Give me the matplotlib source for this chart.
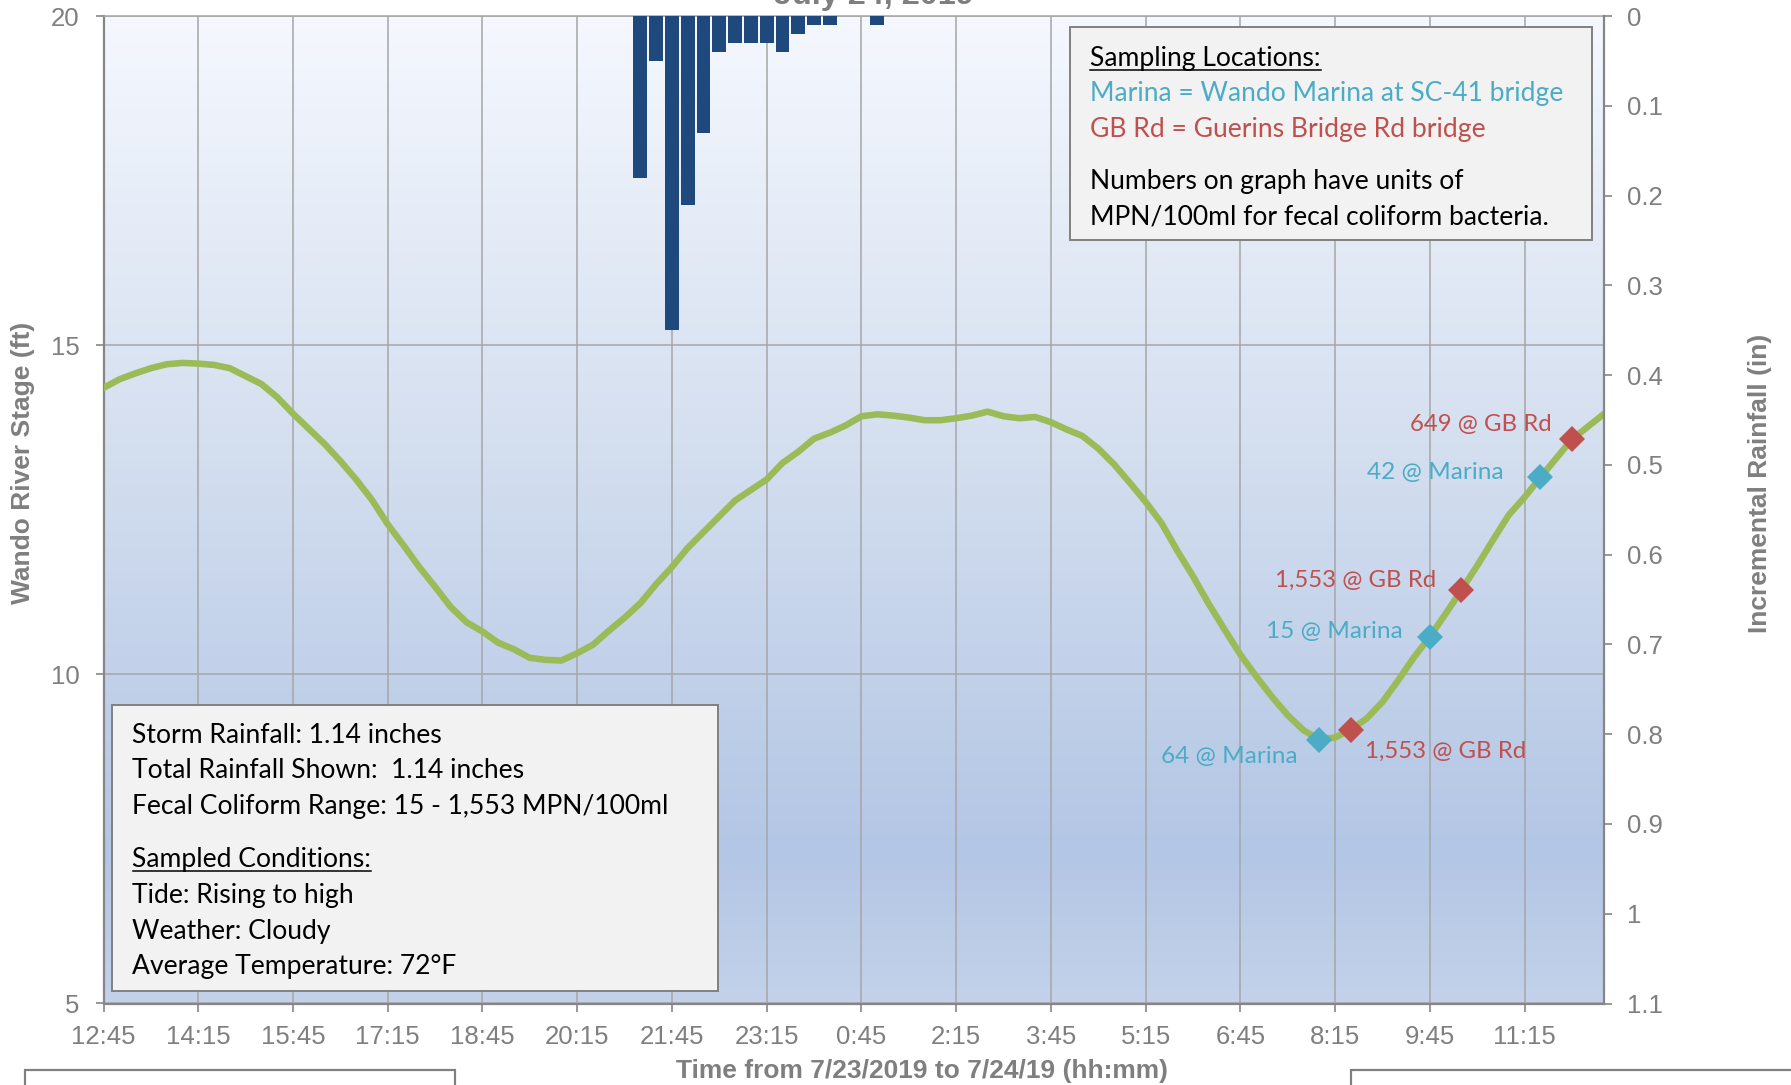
import numpy as np
import matplotlib.pyplot as plt
from matplotlib.colors import LinearSegmentedColormap
from matplotlib.patches import Rectangle
from matplotlib.lines import Line2D

plt.rcParams['font.family'] = 'Liberation Sans'

# river stage every 15 minutes, 12:45 on 7/23 through 12:30 on 7/24
stage_ft = [14.35, 14.48, 14.57, 14.65, 14.71, 14.73, 14.72, 14.70, 14.65, 14.53,
            14.41, 14.21, 13.96, 13.73, 13.50, 13.24, 12.96, 12.65, 12.28, 11.96,
            11.63, 11.33, 11.02, 10.79, 10.65, 10.48, 10.38, 10.25, 10.22, 10.21,
            10.32, 10.45, 10.66, 10.86, 11.08, 11.37, 11.63, 11.92, 12.16, 12.40,
            12.64, 12.80, 12.96, 13.21, 13.38, 13.58, 13.67, 13.78, 13.92, 13.95,
            13.93, 13.90, 13.86, 13.86, 13.89, 13.93, 13.99, 13.92, 13.89, 13.91,
            13.83, 13.72, 13.62, 13.43, 13.19, 12.91, 12.62, 12.30, 11.88, 11.49,
            11.07, 10.68, 10.30, 9.97, 9.66, 9.38, 9.15, 9.01, 9.04, 9.16,
            9.33, 9.58, 9.91, 10.26, 10.57, 10.92, 11.28, 11.65, 12.04, 12.42,
            12.69, 12.99, 13.28, 13.57, 13.76, 13.95]

tick_labels = ['12:45', '14:15', '15:45', '17:15', '18:45', '20:15', '21:45', '23:15',
               '0:45', '2:15', '3:45', '5:15', '6:45', '8:15', '9:45', '11:15']

rain_times = ['21:15', '21:30', '21:45', '22:00', '22:15', '22:30', '22:45', '23:00',
              '23:15', '23:30', '23:45', '0:00', '0:15', '1:00']
rain_in = [0.18, 0.05, 0.35, 0.21, 0.13, 0.04, 0.03, 0.03, 0.03, 0.04, 0.02, 0.01, 0.01, 0.01]

marina_times = ['8:00', '9:45', '11:30']
marina_counts = ['64', '15', '42']
gbrd_times = ['8:30', '10:15', '12:00']
gbrd_counts = ['1,553', '1,553', '649']


def hours_from_start(t):
    h, m = t.split(':')
    mins = int(h) * 60 + int(m)
    if mins < 12 * 60 + 45:
        mins += 24 * 60
    return (mins - (12 * 60 + 45)) / 60.0


t_stage = np.arange(len(stage_ft)) * 0.25
t_rain = np.array([hours_from_start(t) for t in rain_times])
t_marina = np.array([hours_from_start(t) for t in marina_times])
t_gbrd = np.array([hours_from_start(t) for t in gbrd_times])

W, H = 1791, 1085
fig = plt.figure(figsize=(W / 100, H / 100), dpi=100)


def fx(x):
    return x / W


def fy(y):
    return 1 - y / H


ax = fig.add_axes([fx(103.5), fy(1003.5), fx(1603.5) - fx(103.5), fy(16) - fy(1003.5)])
ax2 = ax.twinx()

# gradient plot area
grad = LinearSegmentedColormap.from_list('bg', [(0, '#f5f8fe'), (0.45, '#d3deef'),
                                               (0.85, '#b3c6e5'), (1.0, '#c3d2ea')])
ax.imshow(np.linspace(0, 1, 256).reshape(-1, 1), cmap=grad, aspect='auto',
          extent=[0, 1, 0, 1], transform=ax.transAxes, origin='upper', zorder=0)

grey = '#7f7f7f'
axis_c = '#868686'
grid_c = '#a6a6a6'

ax.plot(t_stage, stage_ft, color='#9bbb59', lw=4.7, zorder=3, solid_joinstyle='round')

ax.plot(t_marina, np.interp(t_marina, t_stage, stage_ft), 'D', color='#4bacc6',
        ms=13.5, mew=0, zorder=4)
ax.plot(t_gbrd, np.interp(t_gbrd, t_stage, stage_ft), 'D', color='#c0504d',
        ms=13.5, mew=0, zorder=4)

marina_offsets = [(-22, -17, 'right'), (-27, 5, 'right'), (-37, 5, 'right')]
gbrd_offsets = [(14, -22, 'left'), (-25, 10, 'right'), (-20, 15, 'right')]
for t, c, (dx, dy, ha) in zip(t_marina, marina_counts, marina_offsets):
    ax.annotate(f'{c} @ Marina', (t, np.interp(t, t_stage, stage_ft)), xytext=(dx, dy),
                textcoords='offset pixels', ha=ha, va='center', color='#4bacc6',
                fontsize=17.6, family='Lato', zorder=5)
for t, c, (dx, dy, ha) in zip(t_gbrd, gbrd_counts, gbrd_offsets):
    ax.annotate(f'{c} @ GB Rd', (t, np.interp(t, t_stage, stage_ft)), xytext=(dx, dy),
                textcoords='offset pixels', ha=ha, va='center', color='#c0504d',
                fontsize=17.3, family='Lato', zorder=5)

ax2.bar(t_rain, rain_in, width=0.22, color='#1f497d', zorder=2)

ax.set_xlim(0, 23.75)
ax.set_ylim(5, 20)
ax.set_yticks([5, 10, 15, 20])
ax.set_xticks(np.arange(len(tick_labels)) * 1.5)
ax.set_xticklabels(tick_labels)
ax2.set_ylim(1.1, 0)
ax2.set_yticks(np.round(np.arange(0, 1.11, 0.1), 1))
ax2.set_yticklabels(['0', '0.1', '0.2', '0.3', '0.4', '0.5', '0.6', '0.7', '0.8', '0.9', '1', '1.1'])

ax.grid(True, color=grid_c, lw=1.1, zorder=1)
ax.set_axisbelow(True)

ax.tick_params(axis='x', length=5.8, width=1.2, color=axis_c, pad=9.4,
               labelsize=18.5, labelcolor=grey)
ax.tick_params(axis='y', length=5.8, width=1.2, color=axis_c, pad=11.5,
               labelsize=18.5, labelcolor=grey)
ax2.tick_params(axis='y', length=5.8, width=1.2, color=axis_c, pad=11.3,
                labelsize=18.5, labelcolor=grey)

for s in ['left', 'bottom']:
    ax.spines[s].set_color(axis_c)
    ax.spines[s].set_linewidth(1.6)
ax.spines['top'].set_color(grid_c)
ax.spines['top'].set_linewidth(1.1)
ax.spines['right'].set_visible(False)
for s in ['left', 'bottom', 'top']:
    ax2.spines[s].set_visible(False)
ax2.spines['right'].set_color(axis_c)
ax2.spines['right'].set_linewidth(1.6)

# axis titles
lab = dict(color=grey, fontweight='bold', fontsize=19)
fig.text(fx(922), fy(1071), 'Time from 7/23/2019 to 7/24/19 (hh:mm)', ha='center', va='center', **lab)
fig.text(fx(23), fy(463), 'Wando River Stage (ft)', rotation=90, ha='center', va='center', **lab)
fig.text(fx(1760), fy(483), 'Incremental Rainfall (in)', rotation=90, ha='center', va='center', **lab)
fig.text(fx(874), fy(4), 'July 24, 2019', ha='center', va='baseline', color=grey,
         fontweight='bold', fontsize=23.3)

# text boxes
box_kw = dict(transform=fig.transFigure, facecolor='#f2f2f2', edgecolor='#808080', lw=1.4, zorder=10)
fig.patches.append(Rectangle((fx(1070), fy(240)), fx(1592) - fx(1070), fy(27.4) - fy(240), **box_kw))
fig.patches.append(Rectangle((fx(112), fy(991)), fx(718) - fx(112), fy(705) - fy(991), **box_kw))

# partially visible boxes at bottom edge
low_kw = dict(transform=fig.transFigure, facecolor='white', edgecolor='#808080', lw=1.6, zorder=10)
fig.patches.append(Rectangle((fx(25), fy(1100)), fx(455) - fx(25), fy(1070) - fy(1100), **low_kw))
fig.patches.append(Rectangle((fx(1351), fy(1100)), fx(1800) - fx(1351), fy(1070) - fy(1100), **low_kw))

txt = dict(family='Lato', fontsize=19.1, va='center', ha='left', zorder=11)
underlined = []
underlined.append(fig.text(fx(1090), fy(58.5), 'Sampling Locations:', color='black', **txt))
fig.text(fx(1090), fy(93.5), 'Marina = Wando Marina at SC-41 bridge', color='#4bacc6', **txt)
fig.text(fx(1090), fy(129), 'GB Rd = Guerins Bridge Rd bridge', color='#c0504d', **txt)
fig.text(fx(1090), fy(181.5), 'Numbers on graph have units of', color='black', **txt)
fig.text(fx(1090), fy(217), 'MPN/100ml for fecal coliform bacteria.', color='black', **txt)

fig.text(fx(132.5), fy(735.5), 'Storm Rainfall: 1.14 inches', color='black', **txt)
fig.text(fx(132.5), fy(771), 'Total Rainfall Shown:  1.14 inches', color='black', **txt)
fig.text(fx(132.5), fy(806.5), 'Fecal Coliform Range: 15 - 1,553 MPN/100ml', color='black', **txt)
underlined.append(fig.text(fx(132.5), fy(859), 'Sampled Conditions:', color='black', **txt))
fig.text(fx(132.5), fy(895.5), 'Tide: Rising to high', color='black', **txt)
fig.text(fx(132.5), fy(931), 'Weather: Cloudy', color='black', **txt)
fig.text(fx(132.5), fy(966.5), 'Average Temperature: 72\u00b0F', color='black', **txt)

fig.canvas.draw()
r = fig.canvas.get_renderer()
for t in underlined:
    bb = t.get_window_extent(r)
    y = bb.y0 + 1
    fig.lines.append(Line2D([bb.x0 / W, bb.x1 / W], [y / H, y / H], transform=fig.transFigure,
                            color='black', lw=1.1, zorder=12))

fig.savefig('out.png', dpi=100)
